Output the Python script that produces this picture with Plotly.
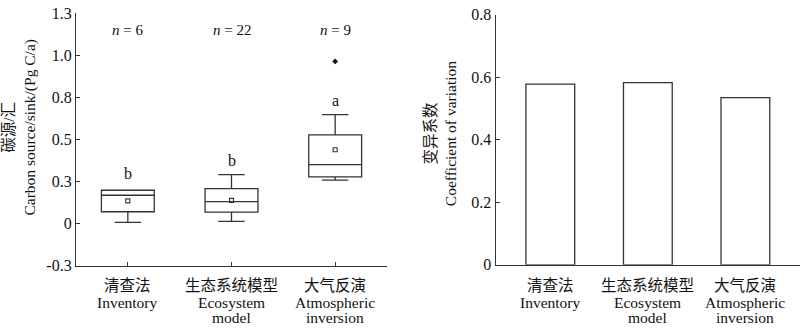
import plotly.graph_objects as go

# Categories (Chinese / English)
cat_cn = ["清查法", "生态系统模型", "大气反演"]
cat_en = [["Inventory"], ["Ecosystem", "model"], ["Atmospheric", "inversion"]]
cats = ["inv", "eco", "atm"]

# Box statistics, carbon source/sink (Pg C/a)
q1 = [0.074, 0.072, 0.289]
median = [0.176, 0.137, 0.365]
q3 = [0.207, 0.217, 0.549]
lower = [0.008, 0.015, 0.270]
upper = [0.207, 0.303, 0.674]
means = [0.141, 0.144, 0.457]
outlier_cat = ["atm"]
outlier_val = [1.003]
n_counts = [6, 22, 9]
sig_letters = ["b", "b", "a"]
letter_y = [0.308, 0.39, 0.76]

# Coefficient of variation
cv = [0.578, 0.583, 0.535]

# Y-axis ticks
left_tickvals = [-0.26, 0, 0.26, 0.52, 0.78, 1.04, 1.3]
left_ticktext = ["-0.3", "0", "0.3", "0.5", "0.8", "1.0", "1.3"]
right_tickvals = [0, 0.2, 0.4, 0.6, 0.8]
right_ticktext = ["0", "0.2", "0.4", "0.6", "0.8"]

FONT = "Liberation Serif, Noto Sans CJK SC, serif"
INK = "#333333"
TXT = "#111111"
W, H = 800, 332

fig = go.Figure()

fig.add_trace(go.Box(
    x=cats, q1=q1, median=median, q3=q3,
    lowerfence=lower, upperfence=upper,
    fillcolor="white", line=dict(color=INK, width=1.3),
    width=0.51, whiskerwidth=0.5, boxpoints=False,
    xaxis="x", yaxis="y", showlegend=False, hoverinfo="skip",
))
fig.add_trace(go.Scatter(
    x=cats, y=means, mode="markers",
    marker=dict(symbol="square-open", size=4, color=INK, line=dict(width=1.1)),
    xaxis="x", yaxis="y", showlegend=False,
))
fig.add_trace(go.Scatter(
    x=outlier_cat, y=outlier_val, mode="markers",
    marker=dict(symbol="diamond", size=4.5, color=TXT),
    xaxis="x", yaxis="y", showlegend=False,
))

fig.add_trace(go.Bar(
    x=cats, y=cv, width=0.5,
    marker=dict(color="white", line=dict(color=INK, width=1.3)),
    xaxis="x2", yaxis="y2", showlegend=False,
))

annotations = []
for c, n in zip(cats, n_counts):
    annotations.append(dict(
        x=c, y=1.2, xref="x", yref="y", showarrow=False,
        text=f"<i>n</i> = {n}", font=dict(family=FONT, size=15, color=TXT),
    ))
for c, s, yy in zip(cats, sig_letters, letter_y):
    annotations.append(dict(
        x=c, y=yy, xref="x", yref="y", showarrow=False,
        text=s, font=dict(family=FONT, size=16, color=TXT),
    ))

# Category labels under both panels, one annotation per line
line_rows = [293, 310, 326]
for ax in ["x", "x2"]:
    for c, cn, en in zip(cats, cat_cn, cat_en):
        for row, txt in zip(line_rows, [cn] + en):
            annotations.append(dict(
                x=c, y=(H - row) / H, xref=ax, yref="paper",
                xanchor="center", yanchor="middle", showarrow=False,
                text=txt, font=dict(family=FONT, size=15.5, color=TXT),
            ))

# Y-axis titles
annotations.append(dict(
    x=19 / W, y=(H - 126) / H, xref="paper", yref="paper", showarrow=False,
    xanchor="center", yanchor="middle",
    textangle=-90, text="碳源/汇<br>Carbon source/sink/(Pg C/a)",
    font=dict(family=FONT, size=15.5, color=TXT),
))
annotations.append(dict(
    x=440 / W, y=(H - 133) / H, xref="paper", yref="paper", showarrow=False,
    xanchor="center", yanchor="middle",
    textangle=-90, text="变异系数<br>Coefficient of variation",
    font=dict(family=FONT, size=15.5, color=TXT),
))

axis_common = dict(
    showline=True, linecolor=INK, linewidth=1.3, showgrid=False, zeroline=False,
    tickfont=dict(family=FONT, size=16, color=TXT),
)

fig.update_layout(
    width=W, height=H,
    margin=dict(l=0, r=0, t=0, b=0),
    paper_bgcolor="white", plot_bgcolor="white",
    xaxis=dict(domain=[76 / W, 387 / W], range=[-0.5, 2.5], type="category",
               showticklabels=False, ticks="inside", ticklen=4, tickcolor=INK,
               anchor="y", **axis_common),
    yaxis=dict(domain=[60.3 / H, 326.35 / H], range=[-0.26, 1.3001],
               tickvals=left_tickvals, ticktext=left_ticktext,
               ticks="inside", ticklen=4, tickcolor=INK, anchor="x",
               ticklabeloverflow="allow", **axis_common),
    xaxis2=dict(domain=[495.7 / W, 1.0], range=[-0.56, 2.56], type="category",
                showticklabels=False, ticks="", anchor="y2", **axis_common),
    yaxis2=dict(domain=[61.3 / H, 325 / H], range=[0, 0.8001],
                tickvals=right_tickvals, ticktext=right_ticktext,
                ticks="inside", ticklen=4, tickcolor=INK, anchor="x2",
                ticklabeloverflow="allow", **axis_common),
    annotations=annotations,
)

fig.write_html("out.html")
